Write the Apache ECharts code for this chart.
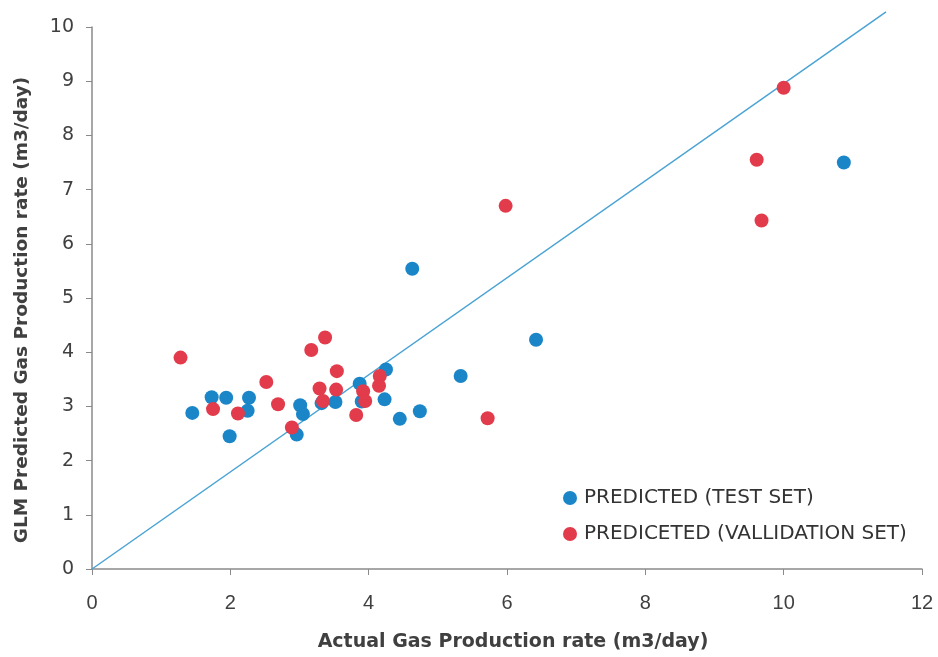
<!DOCTYPE html>
<html><head><meta charset="utf-8">
<script src="https://cdn.jsdelivr.net/npm/echarts@6/dist/echarts.min.js"></script>
<style>html,body{margin:0;padding:0;background:#fff}#c{width:938px;height:657px}</style>
</head><body><div id="c"></div>
<script>
const testSet = [[1.45,2.88],[1.73,3.17],[1.94,3.16],[1.99,2.45],[2.25,2.92],[2.27,3.16],[2.96,2.48],[3.01,3.02],[3.05,2.86],[3.32,3.06],[3.52,3.08],[3.87,3.42],[3.90,3.09],[4.25,3.68],[4.23,3.13],[4.45,2.77],[4.74,2.91],[4.63,5.54],[5.33,3.56],[6.42,4.23],[10.87,7.50]];
const validationSet = [[1.28,3.90],[1.75,2.95],[2.11,2.87],[2.52,3.45],[2.69,3.04],[2.89,2.61],[3.17,4.04],[3.37,4.27],[3.29,3.33],[3.54,3.65],[3.53,3.31],[3.34,3.10],[3.92,3.28],[3.95,3.10],[3.82,2.84],[4.16,3.56],[4.15,3.38],[5.72,2.78],[5.98,6.70],[9.61,7.55],[9.68,6.43],[10.0,8.88]];
const fitLine = [[0,0],[11.48,10.28]];
const xTicks = [0,2,4,6,8,10,12];
const yTicks = [0,1,2,3,4,5,6,7,8,9,10];

const chart = echarts.init(document.getElementById('c'));
chart.setOption({
  animation:false,
  grid:{left:92,right:16,top:27,bottom:87},
  legend:{
    orient:'vertical', left:558, top:483, itemGap:16, itemWidth:14, itemHeight:14,
    icon:'circle',
    textStyle:{fontFamily:'DejaVu Sans', fontSize:20, color:'#333', padding:[0,0,0,2]},
    data:['PREDICTED (TEST SET)','PREDICETED (VALLIDATION SET)']
  },
  xAxis:{
    type:'value', min:0, max:12, interval:2,
    splitLine:{show:false},
    axisLine:{lineStyle:{color:'#8a8a8a',width:1.5}},
    axisTick:{show:true,length:6,lineStyle:{color:'#8a8a8a'}},
    axisLabel:{margin:24,fontFamily:'Liberation Sans',fontSize:20,color:'#404040'},
    name:'Actual Gas Production rate (m3/day)', nameLocation:'middle', nameGap:64,
    nameTextStyle:{fontFamily:'DejaVu Sans',fontWeight:'bold',fontSize:19,color:'#404040',padding:[0,0,0,12]}
  },
  yAxis:{
    type:'value', min:0, max:10, interval:1,
    splitLine:{show:false},
    axisLine:{show:true,lineStyle:{color:'#8a8a8a',width:1.5}},
    axisTick:{show:true,length:6,lineStyle:{color:'#8a8a8a'}},
    axisLabel:{margin:18,fontFamily:'DejaVu Sans',fontSize:19,color:'#404040'},
    name:'GLM Predicted Gas Production rate (m3/day)', nameLocation:'middle', nameGap:60,
    nameTextStyle:{fontFamily:'DejaVu Sans',fontWeight:'bold',fontSize:18.5,color:'#404040',padding:[0,24,0,0]}
  },
  series:[
    {type:'line', data:fitLine, showSymbol:false, clip:false, silent:true,
     lineStyle:{color:'#4aa3d4',width:1.5}, z:1},
    {name:'PREDICTED (TEST SET)', type:'scatter', data:testSet, symbolSize:14,
     itemStyle:{color:'#1a86c8',opacity:1}, z:2},
    {name:'PREDICETED (VALLIDATION SET)', type:'scatter', data:validationSet, symbolSize:14,
     itemStyle:{color:'#e23b4b',opacity:1}, z:3}
  ]
});
</script></body></html>
